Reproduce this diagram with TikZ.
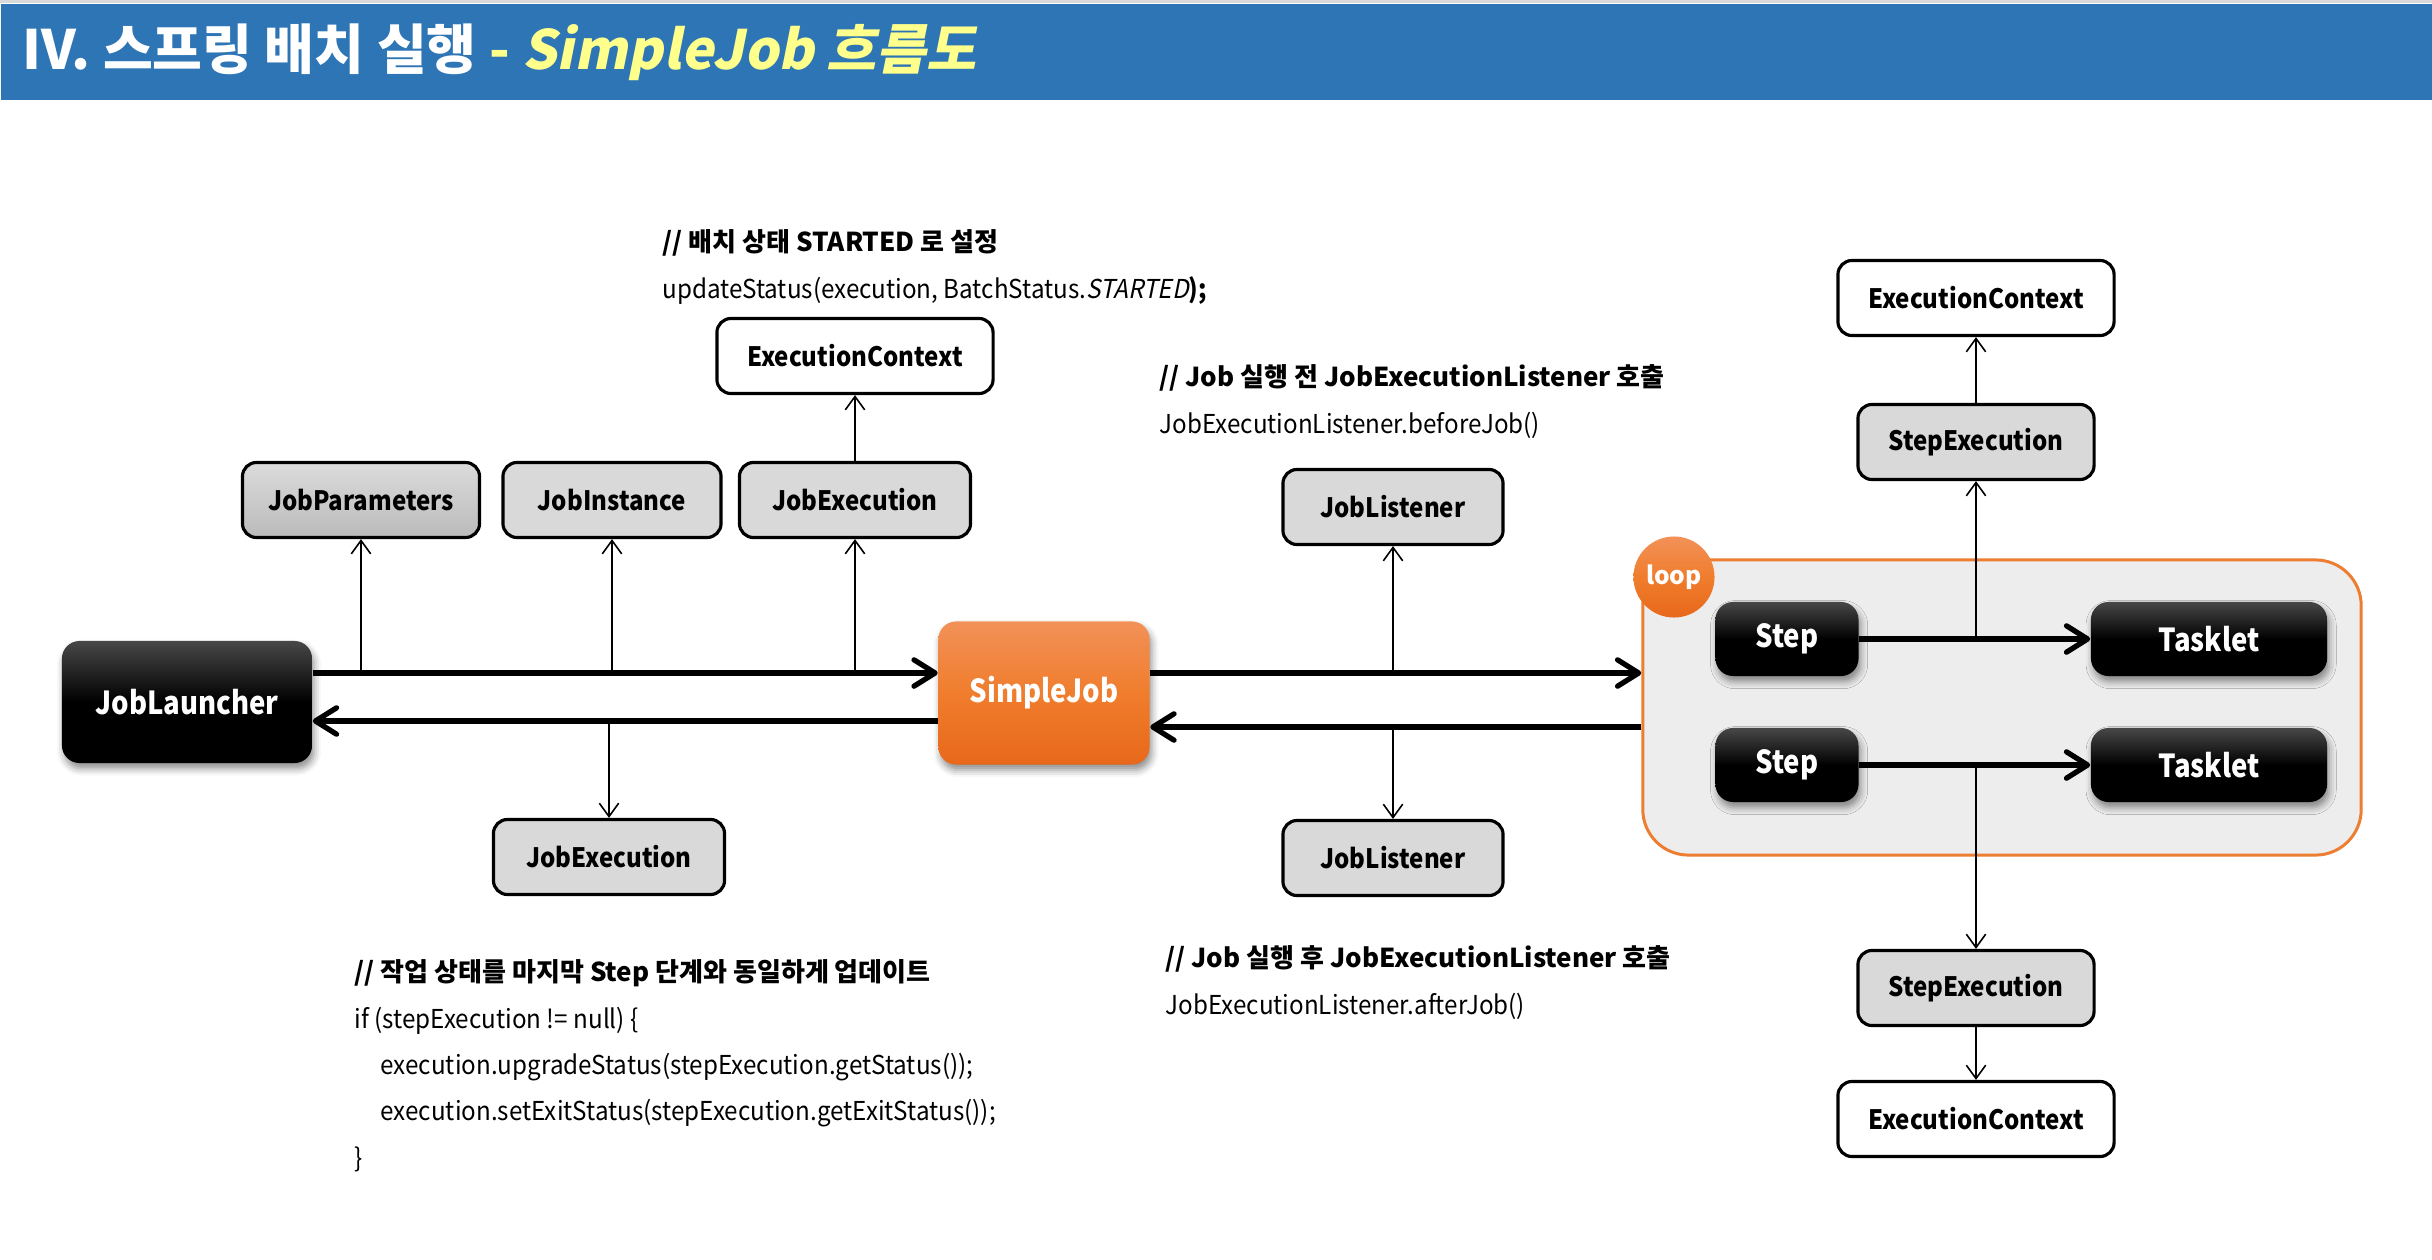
\documentclass[tikz,border=0pt]{standalone}
\usepackage{fontspec}
\setmainfont{Noto Sans CJK KR}[AutoFakeSlant=0.2]
\usetikzlibrary{arrows.meta, positioning, shadows, shadows.blur}
\definecolor{TitleBlue}{RGB}{46,117,182}
\definecolor{TitleYellow}{RGB}{255,255,140}
\definecolor{LoopOrange}{RGB}{237,125,49}
\definecolor{OrangeTop}{RGB}{242,145,88}
\definecolor{OrangeMid}{RGB}{240,125,45}
\definecolor{OrangeBot}{RGB}{232,104,26}
\definecolor{BoxGray}{RGB}{217,217,217}
\definecolor{LoopFill}{RGB}{237,237,237}
\newcommand{\cod}{\addfontfeature{FakeStretch=0.93}}

\begin{document}
\begin{tikzpicture}[x=0.01cm, y=-0.01cm,
	caja/.style={rectangle, rounded corners=4pt, draw=black, line width=0.9pt,
		fill=BoxGray, minimum height=0.75cm, inner sep=2pt,
		font=\fontsize{7.6}{9}\selectfont\bfseries\addfontfeature{FakeStretch=0.9}},
	ctx/.style={caja, fill=white, minimum width=2.76cm},
	sombra/.style={blur shadow={shadow xshift=0.6pt, shadow yshift=-1.6pt,
		shadow blur radius=2pt, shadow opacity=45}},
	negro/.style={rectangle, rounded corners=5pt, top color=black!72,
		bottom color=black, middle color=black, text=white, sombra,
		minimum height=0.74cm,
		font=\fontsize{9}{10.8}\selectfont\bfseries\addfontfeature{FakeStretch=0.87}},
	naranja/.style={negro, top color=OrangeTop, bottom color=OrangeBot,
		middle color=OrangeMid},
	loopbox/.style={rectangle, rounded corners=13pt, draw=LoopOrange,
		line width=0.85pt, fill=LoopFill, minimum width=7.18cm,
		minimum height=2.95cm},
	loopc/.style={circle, minimum size=0.81cm, inner sep=0pt, top color=OrangeTop,
		bottom color=OrangeBot, middle color=OrangeMid, text=white,
		font=\fontsize{7}{8}\selectfont\bfseries},
	coment/.style={anchor=north west, inner sep=0pt, align=left,
		font=\fontsize{7.4}{13.2}\selectfont},
	fl/.style={-{Straight Barb[length=6pt, width=7.5pt, round]}, line width=1.5pt},
	fino/.style={-{Straight Barb[length=3.8pt, width=5.5pt]}, line width=0.45pt}]

	\useasboundingbox (0,0) rectangle (2432,1260);

	% title
	\fill[black!15] (0,0) rectangle (2432,3);
	\node[rectangle, fill=TitleBlue, anchor=north west, minimum width=24.32cm,
		minimum height=0.96cm, inner sep=0pt] (bar) at (0,3) {};
	\node[anchor=west, inner sep=0pt, text=white,
		font=\fontsize{15.4}{18}\selectfont\bfseries] (title) at (22,52)
		{IV. 스프링 배치 실행 \textcolor{TitleYellow}{- \addfontfeature{FakeSlant=0.2}SimpleJob 흐름도}};

	% rows of the big arrows
	\coordinate (r1) at (0,673);
	\coordinate (r2) at (0,721);
	\coordinate (r3) at (0,727);

	\node[negro, minimum width=2.5cm, minimum height=1.22cm] (launcher) at (187,702) {JobLauncher};
	\node[naranja, minimum width=2.11cm, minimum height=1.43cm] (simplejob) at (1044,693) {SimpleJob};

	\node[caja, minimum width=2.37cm, top color=black!14, bottom color=black!27]
		(params) at (361,500) {JobParameters};
	\node[caja, minimum width=2.18cm] (instance) at (612,500) {JobInstance};
	\node[caja, minimum width=2.31cm] (jobexecA) at (855,500) {JobExecution};
	\node[ctx] (ctxA) at (855,356) {ExecutionContext};
	\node[caja, minimum width=2.31cm] (jobexecB) at (609,857) {JobExecution};

	\node[caja, minimum width=2.2cm] (listenerA) at (1393,507) {JobListener};
	\node[caja, minimum width=2.2cm] (listenerB) at (1393,858) {JobListener};

	% loop of steps
	\node[loopbox] (loopbox) at (2002,707.5) {};
	\node[loopc] (loop) at (1674,577) {loop};
	\node[negro, minimum width=1.43cm] (stepA) at (1787,639) {Step};
	\node[negro, minimum width=2.36cm] (taskletA) at (2209,639) {Tasklet};
	\node[negro, minimum width=1.43cm] (stepB) at (1787,765) {Step};
	\node[negro, minimum width=2.36cm] (taskletB) at (2209,765) {Tasklet};

	\node[caja, minimum width=2.36cm] (stepexecA) at (1976,442) {StepExecution};
	\node[ctx] (ctxB) at (1976,298) {ExecutionContext};
	\node[caja, minimum width=2.36cm] (stepexecB) at (1976,988) {StepExecution};
	\node[ctx] (ctxC) at (1976,1119) {ExecutionContext};

	% comments
	\node[coment] (cmtA) at (662,229)
		{\bfseries // 배치 상태 STARTED 로 설정\\
		 \cod updateStatus(execution, BatchStatus.\textit{STARTED}\textbf{);}};
	\node[coment] (cmtB) at (1159,364)
		{\bfseries // Job 실행 전 JobExecutionListener 호출\\
		 \cod JobExecutionListener.beforeJob()};
	\node[coment] (cmtC) at (1165,945)
		{\bfseries // Job 실행 후 JobExecutionListener 호출\\
		 \cod JobExecutionListener.afterJob()};
	\node[coment] (cmtD) at (354,959)
		{\bfseries // 작업 상태를 마지막 Step 단계와 동일하게 업데이트\\
		 \cod if (stepExecution != null) \{\\
		 \cod\hspace*{1em}execution.upgradeStatus(stepExecution.getStatus());\\
		 \cod\hspace*{1em}execution.setExitStatus(stepExecution.getExitStatus());\\
		 \cod\}};

	% calls
	\draw[fl] (launcher.east |- r1) -- (simplejob.west |- r1);
	\draw[fl] (simplejob.west |- r2) -- (launcher.east |- r2);
	\draw[fl] (simplejob.east |- r1) -- (loopbox.west |- r1);
	\draw[fl] (loopbox.west |- r3) -- (simplejob.east |- r3);
	\draw[fl] (stepA) -- (taskletA);
	\draw[fl] (stepB) -- (taskletB);

	\draw[fino] (params |- r1) -- (params.south);
	\draw[fino] (instance |- r1) -- (instance.south);
	\draw[fino] (jobexecA |- r1) -- (jobexecA.south);
	\draw[fino] (jobexecA.north) -- (ctxA.south);
	\draw[fino] (jobexecB |- r2) -- (jobexecB.north);
	\draw[fino] (listenerA |- r1) -- (listenerA.south);
	\draw[fino] (listenerB |- r3) -- (listenerB.north);
	\draw[fino] (stepexecA |- stepA.east) -- (stepexecA.south);
	\draw[fino] (stepexecA.north) -- (ctxB.south);
	\draw[fino] (stepexecB |- stepB.east) -- (stepexecB.north);
	\draw[fino] (stepexecB.south) -- (ctxC.north);
\end{tikzpicture}
\end{document}
